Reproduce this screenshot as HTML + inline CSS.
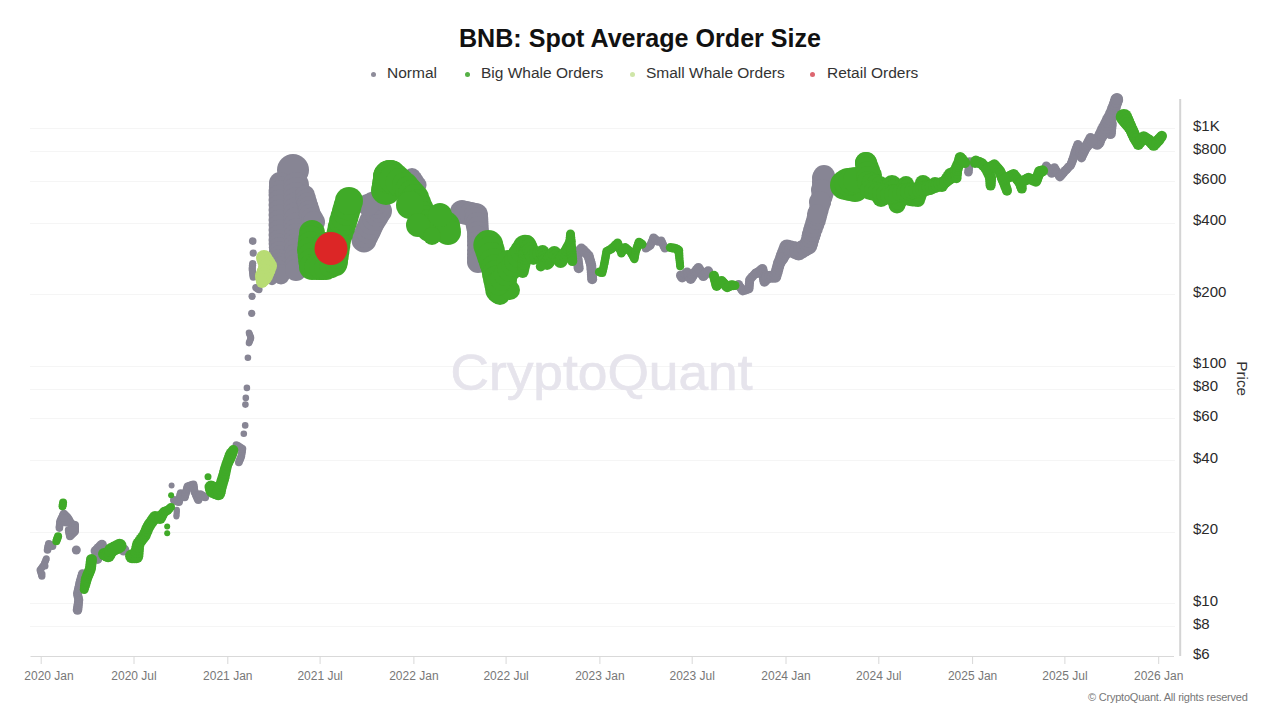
<!DOCTYPE html>
<html><head><meta charset="utf-8">
<style>
html,body{margin:0;padding:0;background:#fff;}
body{width:1280px;height:720px;position:relative;overflow:hidden;font-family:"Liberation Sans",sans-serif;}
.t{position:absolute;white-space:nowrap;line-height:1;}
#title{left:0;width:1280px;text-align:center;top:26px;font-size:25.1px;font-weight:bold;color:#111;}
.lg{top:65px;font-size:15.5px;color:#333;}
.dot{position:absolute;width:5px;height:5px;border-radius:50%;top:71.5px;}
.yl{left:1193px;font-size:15px;color:#2a2a2a;}
.xl{top:670px;font-size:12px;color:#777;}
svg{position:absolute;left:0;top:0;}
</style></head><body>
<svg width="1280" height="720" viewBox="0 0 1280 720">
<g stroke="#f5f5f5" stroke-width="1">
<line x1="30" y1="128.5" x2="1175" y2="128.5"/>
<line x1="30" y1="151.5" x2="1175" y2="151.5"/>
<line x1="30" y1="181.5" x2="1175" y2="181.5"/>
<line x1="30" y1="223.5" x2="1175" y2="223.5"/>
<line x1="30" y1="294.5" x2="1175" y2="294.5"/>
<line x1="30" y1="366.5" x2="1175" y2="366.5"/>
<line x1="30" y1="389.5" x2="1175" y2="389.5"/>
<line x1="30" y1="418.5" x2="1175" y2="418.5"/>
<line x1="30" y1="460.5" x2="1175" y2="460.5"/>
<line x1="30" y1="532.5" x2="1175" y2="532.5"/>
<line x1="30" y1="603.5" x2="1175" y2="603.5"/>
<line x1="30" y1="626.5" x2="1175" y2="626.5"/>
</g>
<text x="601.5" y="390" font-family="Liberation Sans" font-size="49.5" fill="#e6e4ec" stroke="#e6e4ec" stroke-width="0.7" text-anchor="middle" textLength="302" lengthAdjust="spacingAndGlyphs">CryptoQuant</text>
<g>
<g fill="#878594">
<circle cx="41.9" cy="576.3" r="3.5"/>
<circle cx="41.4" cy="574.7" r="3.5"/>
<circle cx="41.0" cy="573.1" r="3.5"/>
<circle cx="40.5" cy="571.6" r="3.5"/>
<circle cx="40.0" cy="570.0" r="3.5"/>
<circle cx="41.0" cy="568.8" r="3.5"/>
<circle cx="41.9" cy="567.5" r="3.5"/>
<circle cx="42.8" cy="566.2" r="3.5"/>
<circle cx="43.8" cy="565.0" r="3.5"/>
<circle cx="44.4" cy="563.5" r="3.5"/>
<circle cx="45.0" cy="561.9" r="3.5"/>
<circle cx="45.7" cy="560.3" r="3.5"/>
<circle cx="46.3" cy="558.8" r="3.5"/>
<circle cx="42.0" cy="574.0" r="3.5"/>
<circle cx="45.0" cy="566.0" r="3.5"/>
<circle cx="47.5" cy="550.0" r="3.8"/>
<circle cx="47.8" cy="548.5" r="3.8"/>
<circle cx="48.1" cy="546.9" r="3.8"/>
<circle cx="48.5" cy="545.3" r="3.8"/>
<circle cx="48.8" cy="543.8" r="3.8"/>
<circle cx="50.0" cy="544.6" r="3.8"/>
<circle cx="51.3" cy="545.5" r="3.8"/>
<circle cx="52.5" cy="546.3" r="3.8"/>
<circle cx="59.4" cy="528.1" r="3.8"/>
<circle cx="59.5" cy="526.4" r="3.8"/>
<circle cx="59.7" cy="524.7" r="3.8"/>
<circle cx="59.9" cy="523.0" r="3.8"/>
<circle cx="60.0" cy="521.3" r="3.8"/>
<circle cx="60.8" cy="519.8" r="3.8"/>
<circle cx="61.5" cy="518.3" r="3.9"/>
<circle cx="62.3" cy="516.8" r="3.9"/>
<circle cx="63.0" cy="515.3" r="4.0"/>
<circle cx="63.8" cy="513.8" r="4.0"/>
<circle cx="65.0" cy="515.0" r="4.0"/>
<circle cx="66.3" cy="516.3" r="4.0"/>
<circle cx="67.5" cy="517.5" r="4.0"/>
<circle cx="68.5" cy="519.1" r="4.0"/>
<circle cx="69.4" cy="520.6" r="4.0"/>
<circle cx="70.3" cy="522.2" r="4.0"/>
<circle cx="71.3" cy="523.8" r="4.0"/>
<circle cx="73.2" cy="524.4" r="4.0"/>
<circle cx="75.0" cy="525.0" r="4.0"/>
<circle cx="75.0" cy="526.6" r="4.0"/>
<circle cx="75.0" cy="528.1" r="4.0"/>
<circle cx="75.0" cy="529.7" r="4.0"/>
<circle cx="75.0" cy="531.3" r="4.0"/>
<circle cx="73.8" cy="532.5" r="4.0"/>
<circle cx="72.5" cy="533.8" r="4.0"/>
<circle cx="71.2" cy="535.0" r="4.0"/>
<circle cx="70.0" cy="536.3" r="4.0"/>
<circle cx="69.7" cy="534.7" r="4.0"/>
<circle cx="69.4" cy="533.1" r="4.0"/>
<circle cx="69.1" cy="531.6" r="4.0"/>
<circle cx="68.8" cy="530.0" r="4.0"/>
<circle cx="66.0" cy="522.0" r="4.5"/>
<circle cx="64.0" cy="518.0" r="4.0"/>
<circle cx="72.0" cy="530.0" r="4.0"/>
<circle cx="76.3" cy="550.0" r="4.5"/>
<circle cx="77.5" cy="610.0" r="4.8"/>
<circle cx="77.8" cy="608.0" r="4.7"/>
<circle cx="78.0" cy="606.0" r="4.7"/>
<circle cx="78.3" cy="604.0" r="4.6"/>
<circle cx="78.5" cy="602.0" r="4.6"/>
<circle cx="78.8" cy="600.0" r="4.5"/>
<circle cx="78.4" cy="597.9" r="4.5"/>
<circle cx="77.9" cy="595.9" r="4.5"/>
<circle cx="77.5" cy="593.8" r="4.5"/>
<circle cx="77.9" cy="591.9" r="4.5"/>
<circle cx="78.3" cy="590.0" r="4.5"/>
<circle cx="78.8" cy="588.1" r="4.5"/>
<circle cx="79.2" cy="586.3" r="4.5"/>
<circle cx="79.6" cy="584.4" r="4.5"/>
<circle cx="80.0" cy="582.5" r="4.5"/>
<circle cx="80.5" cy="580.8" r="4.5"/>
<circle cx="81.0" cy="579.0" r="4.5"/>
<circle cx="81.5" cy="577.3" r="4.5"/>
<circle cx="82.0" cy="575.5" r="4.5"/>
<circle cx="82.5" cy="573.8" r="4.5"/>
<circle cx="95.6" cy="551.0" r="5.0"/>
<circle cx="97.2" cy="549.5" r="5.0"/>
<circle cx="98.8" cy="547.9" r="5.0"/>
<circle cx="100.3" cy="546.3" r="5.0"/>
<circle cx="101.9" cy="544.8" r="5.0"/>
<circle cx="97.7" cy="559.4" r="4.5"/>
<circle cx="123.8" cy="550.0" r="5.5"/>
<circle cx="171.6" cy="485.5" r="3.0"/>
<circle cx="176.9" cy="509.8" r="3.0"/>
<circle cx="176.8" cy="511.2" r="3.0"/>
<circle cx="176.7" cy="512.5" r="3.0"/>
<circle cx="176.6" cy="513.9" r="3.0"/>
<circle cx="176.5" cy="515.2" r="3.0"/>
<circle cx="176.4" cy="516.6" r="3.0"/>
<circle cx="174.0" cy="500.1" r="4.0"/>
<circle cx="175.6" cy="500.8" r="4.0"/>
<circle cx="177.3" cy="501.4" r="4.0"/>
<circle cx="178.9" cy="502.1" r="4.0"/>
<circle cx="179.3" cy="500.3" r="4.0"/>
<circle cx="179.7" cy="498.6" r="4.0"/>
<circle cx="180.0" cy="496.8" r="4.0"/>
<circle cx="180.4" cy="495.1" r="4.0"/>
<circle cx="180.8" cy="493.3" r="4.0"/>
<circle cx="182.1" cy="494.6" r="4.0"/>
<circle cx="183.4" cy="495.9" r="4.0"/>
<circle cx="184.7" cy="497.2" r="4.0"/>
<circle cx="185.2" cy="495.4" r="4.0"/>
<circle cx="185.7" cy="493.6" r="4.0"/>
<circle cx="186.1" cy="491.9" r="4.0"/>
<circle cx="186.6" cy="490.1" r="4.0"/>
<circle cx="187.1" cy="488.3" r="4.0"/>
<circle cx="187.6" cy="486.5" r="4.0"/>
<circle cx="189.1" cy="486.0" r="4.0"/>
<circle cx="190.5" cy="485.6" r="4.0"/>
<circle cx="191.9" cy="485.1" r="4.0"/>
<circle cx="193.4" cy="484.6" r="4.0"/>
<circle cx="193.7" cy="486.3" r="4.0"/>
<circle cx="193.9" cy="488.0" r="4.0"/>
<circle cx="194.2" cy="489.7" r="4.0"/>
<circle cx="194.4" cy="491.4" r="4.0"/>
<circle cx="195.2" cy="493.1" r="4.0"/>
<circle cx="196.0" cy="494.9" r="4.0"/>
<circle cx="196.7" cy="496.6" r="4.0"/>
<circle cx="197.5" cy="498.4" r="4.0"/>
<circle cx="198.3" cy="500.1" r="4.0"/>
<circle cx="198.8" cy="498.7" r="4.0"/>
<circle cx="199.3" cy="497.2" r="4.0"/>
<circle cx="199.8" cy="495.8" r="4.0"/>
<circle cx="200.3" cy="494.3" r="4.0"/>
<circle cx="201.9" cy="495.3" r="4.0"/>
<circle cx="203.5" cy="496.2" r="4.0"/>
<circle cx="205.1" cy="497.2" r="4.0"/>
<circle cx="236.3" cy="445.0" r="3.8"/>
<circle cx="237.9" cy="445.9" r="3.8"/>
<circle cx="239.4" cy="446.9" r="3.8"/>
<circle cx="240.9" cy="447.9" r="3.8"/>
<circle cx="242.5" cy="448.8" r="3.8"/>
<circle cx="242.2" cy="450.7" r="3.8"/>
<circle cx="241.9" cy="452.6" r="3.8"/>
<circle cx="241.6" cy="454.4" r="3.8"/>
<circle cx="241.3" cy="456.3" r="3.8"/>
<circle cx="240.7" cy="457.9" r="3.8"/>
<circle cx="240.1" cy="459.4" r="3.8"/>
<circle cx="239.4" cy="460.9" r="3.8"/>
<circle cx="238.8" cy="462.5" r="3.8"/>
<circle cx="243.8" cy="433.8" r="3.3"/>
<circle cx="245.2" cy="425.4" r="3.3"/>
<circle cx="245.4" cy="404.6" r="3.3"/>
<circle cx="245.8" cy="397.9" r="3.3"/>
<circle cx="246.9" cy="387.9" r="3.3"/>
<circle cx="247.9" cy="357.7" r="3.3"/>
<circle cx="249.0" cy="343.1" r="3.3"/>
<circle cx="249.5" cy="341.8" r="3.3"/>
<circle cx="250.0" cy="340.5" r="3.3"/>
<circle cx="250.5" cy="339.2" r="3.3"/>
<circle cx="251.0" cy="337.9" r="3.3"/>
<circle cx="250.5" cy="336.6" r="3.3"/>
<circle cx="250.0" cy="335.3" r="3.3"/>
<circle cx="249.5" cy="334.0" r="3.3"/>
<circle cx="249.0" cy="332.7" r="3.3"/>
<circle cx="251.7" cy="313.3" r="3.6"/>
<circle cx="252.1" cy="296.3" r="3.6"/>
<circle cx="255.8" cy="287.5" r="3.6"/>
<circle cx="256.9" cy="288.2" r="3.6"/>
<circle cx="257.9" cy="288.9" r="3.6"/>
<circle cx="259.0" cy="289.6" r="3.6"/>
<circle cx="253.2" cy="277.1" r="3.6"/>
<circle cx="253.0" cy="275.4" r="3.6"/>
<circle cx="252.8" cy="273.8" r="3.6"/>
<circle cx="252.6" cy="272.1" r="3.6"/>
<circle cx="252.4" cy="270.5" r="3.6"/>
<circle cx="252.2" cy="268.8" r="3.6"/>
<circle cx="252.4" cy="267.0" r="3.6"/>
<circle cx="252.5" cy="265.3" r="3.6"/>
<circle cx="252.7" cy="263.5" r="3.6"/>
<circle cx="253.2" cy="253.1" r="3.6"/>
<circle cx="252.7" cy="241.1" r="3.8"/>
<circle cx="293.0" cy="170.0" r="16.0"/>
<circle cx="280.0" cy="183.0" r="11.0"/>
<circle cx="279.7" cy="187.0" r="10.8"/>
<circle cx="279.3" cy="191.0" r="10.7"/>
<circle cx="279.0" cy="195.0" r="10.5"/>
<circle cx="279.0" cy="200.0" r="10.5"/>
<circle cx="279.0" cy="205.0" r="10.5"/>
<circle cx="279.0" cy="210.0" r="10.5"/>
<circle cx="279.0" cy="215.0" r="10.5"/>
<circle cx="279.0" cy="220.0" r="10.5"/>
<circle cx="279.0" cy="225.0" r="10.5"/>
<circle cx="279.0" cy="230.0" r="10.5"/>
<circle cx="279.0" cy="235.0" r="10.5"/>
<circle cx="279.0" cy="240.0" r="10.5"/>
<circle cx="279.0" cy="243.8" r="10.4"/>
<circle cx="279.0" cy="247.5" r="10.2"/>
<circle cx="279.0" cy="251.2" r="10.1"/>
<circle cx="279.0" cy="255.0" r="10.0"/>
<circle cx="279.2" cy="258.8" r="9.9"/>
<circle cx="279.5" cy="262.5" r="9.8"/>
<circle cx="279.8" cy="266.2" r="9.6"/>
<circle cx="280.0" cy="270.0" r="9.5"/>
<circle cx="280.5" cy="273.0" r="9.0"/>
<circle cx="281.0" cy="276.0" r="8.5"/>
<circle cx="296.0" cy="185.0" r="13.0"/>
<circle cx="296.0" cy="190.0" r="13.0"/>
<circle cx="296.0" cy="195.0" r="13.0"/>
<circle cx="296.0" cy="200.0" r="13.0"/>
<circle cx="296.0" cy="205.0" r="13.0"/>
<circle cx="296.0" cy="210.0" r="13.0"/>
<circle cx="296.0" cy="215.0" r="13.0"/>
<circle cx="296.0" cy="220.0" r="12.7"/>
<circle cx="296.0" cy="225.0" r="12.3"/>
<circle cx="296.0" cy="230.0" r="12.0"/>
<circle cx="296.0" cy="235.0" r="12.0"/>
<circle cx="296.0" cy="240.0" r="12.0"/>
<circle cx="296.0" cy="245.0" r="12.0"/>
<circle cx="296.0" cy="250.0" r="11.7"/>
<circle cx="296.0" cy="255.0" r="11.3"/>
<circle cx="296.0" cy="260.0" r="11.0"/>
<circle cx="296.0" cy="265.0" r="11.0"/>
<circle cx="296.0" cy="270.0" r="11.0"/>
<circle cx="305.0" cy="195.0" r="10.0"/>
<circle cx="306.0" cy="199.0" r="10.2"/>
<circle cx="307.0" cy="203.0" r="10.4"/>
<circle cx="308.0" cy="207.0" r="10.6"/>
<circle cx="309.0" cy="211.0" r="10.8"/>
<circle cx="310.0" cy="215.0" r="11.0"/>
<circle cx="312.0" cy="218.5" r="11.0"/>
<circle cx="314.0" cy="222.0" r="11.0"/>
<circle cx="272.0" cy="280.2" r="5.0"/>
<circle cx="364.0" cy="240.0" r="12.5"/>
<circle cx="366.0" cy="235.5" r="12.6"/>
<circle cx="368.0" cy="231.0" r="12.8"/>
<circle cx="370.0" cy="226.5" r="12.9"/>
<circle cx="372.0" cy="222.0" r="13.0"/>
<circle cx="374.7" cy="218.3" r="12.7"/>
<circle cx="377.3" cy="214.7" r="12.3"/>
<circle cx="380.0" cy="211.0" r="12.0"/>
<circle cx="378.7" cy="207.3" r="11.3"/>
<circle cx="377.3" cy="203.7" r="10.7"/>
<circle cx="376.0" cy="200.0" r="10.0"/>
<circle cx="372.0" cy="202.5" r="10.5"/>
<circle cx="368.0" cy="205.0" r="11.0"/>
<circle cx="412.0" cy="177.0" r="9.0"/>
<circle cx="414.2" cy="179.7" r="8.7"/>
<circle cx="416.4" cy="182.3" r="8.3"/>
<circle cx="418.6" cy="185.0" r="8.0"/>
<circle cx="462.0" cy="212.0" r="12.0"/>
<circle cx="466.7" cy="213.0" r="12.0"/>
<circle cx="471.3" cy="214.0" r="12.0"/>
<circle cx="476.0" cy="215.0" r="12.0"/>
<circle cx="476.5" cy="219.2" r="11.8"/>
<circle cx="477.0" cy="223.5" r="11.5"/>
<circle cx="477.5" cy="227.8" r="11.2"/>
<circle cx="478.0" cy="232.0" r="11.0"/>
<circle cx="477.8" cy="236.5" r="10.8"/>
<circle cx="477.5" cy="241.0" r="10.5"/>
<circle cx="477.2" cy="245.5" r="10.2"/>
<circle cx="477.0" cy="250.0" r="10.0"/>
<circle cx="477.3" cy="254.0" r="10.3"/>
<circle cx="477.7" cy="258.0" r="10.7"/>
<circle cx="478.0" cy="262.0" r="11.0"/>
<circle cx="578.7" cy="268.3" r="5.0"/>
<circle cx="578.4" cy="265.9" r="5.0"/>
<circle cx="578.1" cy="263.5" r="5.0"/>
<circle cx="577.8" cy="261.1" r="5.0"/>
<circle cx="577.5" cy="258.7" r="5.0"/>
<circle cx="577.2" cy="256.3" r="5.0"/>
<circle cx="576.9" cy="253.9" r="5.0"/>
<circle cx="578.4" cy="252.1" r="5.0"/>
<circle cx="579.9" cy="250.3" r="5.0"/>
<circle cx="581.4" cy="248.5" r="5.0"/>
<circle cx="582.8" cy="249.9" r="5.0"/>
<circle cx="584.3" cy="251.4" r="5.0"/>
<circle cx="585.7" cy="252.8" r="5.0"/>
<circle cx="587.2" cy="254.3" r="5.0"/>
<circle cx="588.6" cy="255.7" r="5.0"/>
<circle cx="589.1" cy="257.7" r="5.0"/>
<circle cx="589.7" cy="259.7" r="5.0"/>
<circle cx="590.2" cy="261.6" r="5.0"/>
<circle cx="590.8" cy="263.6" r="5.0"/>
<circle cx="591.3" cy="265.6" r="5.0"/>
<circle cx="591.4" cy="267.9" r="5.0"/>
<circle cx="591.6" cy="270.1" r="5.0"/>
<circle cx="591.8" cy="272.4" r="5.0"/>
<circle cx="591.9" cy="274.7" r="5.0"/>
<circle cx="592.1" cy="276.9" r="5.0"/>
<circle cx="592.2" cy="279.2" r="5.0"/>
<circle cx="645.8" cy="248.6" r="4.0"/>
<circle cx="647.3" cy="247.6" r="4.0"/>
<circle cx="648.9" cy="246.6" r="4.0"/>
<circle cx="650.4" cy="245.6" r="4.0"/>
<circle cx="651.0" cy="244.0" r="4.0"/>
<circle cx="651.6" cy="242.3" r="4.0"/>
<circle cx="652.3" cy="240.7" r="4.0"/>
<circle cx="652.9" cy="239.0" r="4.0"/>
<circle cx="653.5" cy="237.4" r="4.0"/>
<circle cx="654.6" cy="238.5" r="4.0"/>
<circle cx="655.8" cy="239.6" r="4.0"/>
<circle cx="657.0" cy="240.7" r="4.0"/>
<circle cx="658.1" cy="241.8" r="4.0"/>
<circle cx="659.6" cy="241.2" r="4.0"/>
<circle cx="661.1" cy="240.5" r="4.0"/>
<circle cx="661.9" cy="242.1" r="4.0"/>
<circle cx="662.6" cy="243.7" r="4.0"/>
<circle cx="663.4" cy="245.4" r="4.0"/>
<circle cx="664.1" cy="247.0" r="4.0"/>
<circle cx="664.9" cy="248.6" r="4.0"/>
<circle cx="681.0" cy="275.4" r="5.0"/>
<circle cx="682.2" cy="277.5" r="5.0"/>
<circle cx="683.8" cy="275.9" r="5.0"/>
<circle cx="685.5" cy="274.2" r="5.0"/>
<circle cx="687.1" cy="272.6" r="5.0"/>
<circle cx="688.3" cy="274.7" r="5.0"/>
<circle cx="689.5" cy="276.8" r="5.0"/>
<circle cx="690.7" cy="278.9" r="5.0"/>
<circle cx="691.9" cy="277.0" r="5.0"/>
<circle cx="693.0" cy="275.2" r="5.0"/>
<circle cx="694.2" cy="273.3" r="5.0"/>
<circle cx="695.6" cy="271.5" r="5.0"/>
<circle cx="697.0" cy="269.8" r="5.0"/>
<circle cx="698.4" cy="268.0" r="5.0"/>
<circle cx="699.6" cy="270.0" r="5.0"/>
<circle cx="700.8" cy="272.1" r="5.0"/>
<circle cx="702.1" cy="274.1" r="5.0"/>
<circle cx="703.3" cy="276.1" r="5.0"/>
<circle cx="704.9" cy="274.5" r="5.0"/>
<circle cx="706.6" cy="272.8" r="5.0"/>
<circle cx="708.2" cy="271.2" r="5.0"/>
<circle cx="738.5" cy="284.5" r="4.5"/>
<circle cx="739.5" cy="286.1" r="4.5"/>
<circle cx="740.6" cy="287.7" r="4.5"/>
<circle cx="741.7" cy="289.3" r="4.5"/>
<circle cx="742.7" cy="290.9" r="4.5"/>
<circle cx="744.8" cy="290.2" r="4.5"/>
<circle cx="746.9" cy="289.5" r="4.5"/>
<circle cx="749.0" cy="288.8" r="4.5"/>
<circle cx="749.1" cy="287.0" r="4.5"/>
<circle cx="749.3" cy="285.1" r="4.5"/>
<circle cx="749.4" cy="283.3" r="4.5"/>
<circle cx="749.6" cy="281.4" r="4.5"/>
<circle cx="749.7" cy="279.6" r="4.5"/>
<circle cx="751.1" cy="278.0" r="4.5"/>
<circle cx="752.5" cy="276.5" r="4.5"/>
<circle cx="754.0" cy="274.9" r="4.5"/>
<circle cx="755.4" cy="273.3" r="4.5"/>
<circle cx="756.6" cy="273.1" r="4.8"/>
<circle cx="757.8" cy="272.8" r="5.0"/>
<circle cx="759.3" cy="271.6" r="5.0"/>
<circle cx="760.9" cy="270.3" r="5.0"/>
<circle cx="762.4" cy="269.1" r="5.0"/>
<circle cx="762.8" cy="271.2" r="5.0"/>
<circle cx="763.1" cy="273.3" r="5.0"/>
<circle cx="763.5" cy="275.4" r="5.0"/>
<circle cx="763.8" cy="277.5" r="5.0"/>
<circle cx="764.1" cy="279.6" r="5.0"/>
<circle cx="764.5" cy="281.7" r="5.0"/>
<circle cx="765.5" cy="280.0" r="5.3"/>
<circle cx="766.5" cy="278.4" r="5.7"/>
<circle cx="767.5" cy="276.7" r="6.0"/>
<circle cx="770.1" cy="276.7" r="6.0"/>
<circle cx="772.7" cy="276.7" r="6.0"/>
<circle cx="775.3" cy="276.7" r="6.0"/>
<circle cx="776.1" cy="274.0" r="6.0"/>
<circle cx="776.9" cy="271.3" r="6.0"/>
<circle cx="777.6" cy="268.5" r="6.0"/>
<circle cx="778.4" cy="265.8" r="6.0"/>
<circle cx="779.2" cy="263.1" r="6.0"/>
<circle cx="779.2" cy="263.1" r="6.0"/>
<circle cx="780.5" cy="260.5" r="6.3"/>
<circle cx="781.8" cy="257.9" r="6.7"/>
<circle cx="783.1" cy="255.3" r="7.0"/>
<circle cx="784.4" cy="252.7" r="7.3"/>
<circle cx="785.7" cy="250.1" r="7.7"/>
<circle cx="787.0" cy="247.5" r="8.0"/>
<circle cx="789.9" cy="248.5" r="8.2"/>
<circle cx="792.8" cy="249.4" r="8.5"/>
<circle cx="795.7" cy="250.4" r="8.8"/>
<circle cx="798.6" cy="251.4" r="9.0"/>
<circle cx="801.9" cy="249.5" r="9.0"/>
<circle cx="805.1" cy="247.5" r="9.0"/>
<circle cx="808.4" cy="245.6" r="9.0"/>
<circle cx="809.3" cy="242.2" r="9.1"/>
<circle cx="810.2" cy="238.8" r="9.2"/>
<circle cx="811.1" cy="235.4" r="9.4"/>
<circle cx="812.0" cy="232.0" r="9.5"/>
<circle cx="813.3" cy="228.0" r="9.7"/>
<circle cx="814.7" cy="224.0" r="9.8"/>
<circle cx="816.0" cy="220.0" r="10.0"/>
<circle cx="817.0" cy="216.2" r="10.0"/>
<circle cx="818.0" cy="212.5" r="10.0"/>
<circle cx="819.0" cy="208.8" r="10.0"/>
<circle cx="820.0" cy="205.0" r="10.0"/>
<circle cx="821.0" cy="200.7" r="10.3"/>
<circle cx="822.0" cy="196.3" r="10.7"/>
<circle cx="823.0" cy="192.0" r="11.0"/>
<circle cx="823.0" cy="187.3" r="11.0"/>
<circle cx="823.0" cy="182.7" r="11.0"/>
<circle cx="823.0" cy="178.0" r="11.0"/>
<circle cx="824.0" cy="176.0" r="11.0"/>
<circle cx="822.0" cy="190.0" r="11.0"/>
<circle cx="820.0" cy="202.0" r="11.0"/>
<circle cx="817.0" cy="214.0" r="10.0"/>
<circle cx="969.8" cy="161.1" r="3.8"/>
<circle cx="969.6" cy="163.0" r="3.9"/>
<circle cx="969.3" cy="164.8" r="4.0"/>
<circle cx="969.1" cy="166.7" r="4.0"/>
<circle cx="968.9" cy="168.6" r="4.1"/>
<circle cx="968.6" cy="170.4" r="4.2"/>
<circle cx="968.4" cy="172.3" r="4.3"/>
<circle cx="1046.3" cy="166.0" r="4.5"/>
<circle cx="1047.4" cy="167.4" r="4.5"/>
<circle cx="1048.5" cy="168.9" r="4.5"/>
<circle cx="1049.5" cy="170.3" r="4.5"/>
<circle cx="1050.6" cy="171.8" r="4.5"/>
<circle cx="1051.7" cy="173.2" r="4.5"/>
<circle cx="1052.6" cy="171.4" r="4.5"/>
<circle cx="1053.5" cy="169.6" r="4.5"/>
<circle cx="1054.4" cy="167.8" r="4.5"/>
<circle cx="1055.5" cy="169.6" r="4.5"/>
<circle cx="1056.6" cy="171.4" r="4.5"/>
<circle cx="1057.7" cy="173.3" r="4.5"/>
<circle cx="1058.8" cy="175.1" r="4.5"/>
<circle cx="1059.9" cy="176.9" r="4.5"/>
<circle cx="1061.2" cy="175.3" r="4.5"/>
<circle cx="1062.6" cy="173.7" r="4.5"/>
<circle cx="1064.0" cy="172.1" r="4.5"/>
<circle cx="1065.3" cy="170.5" r="4.5"/>
<circle cx="1066.7" cy="169.2" r="4.5"/>
<circle cx="1068.0" cy="167.8" r="4.5"/>
<circle cx="1069.3" cy="166.4" r="4.5"/>
<circle cx="1070.7" cy="165.1" r="4.5"/>
<circle cx="1071.4" cy="163.3" r="4.5"/>
<circle cx="1072.1" cy="161.5" r="4.5"/>
<circle cx="1072.7" cy="159.7" r="4.5"/>
<circle cx="1073.4" cy="157.9" r="4.5"/>
<circle cx="1074.0" cy="155.8" r="4.5"/>
<circle cx="1074.6" cy="153.7" r="4.5"/>
<circle cx="1075.2" cy="151.6" r="4.5"/>
<circle cx="1075.9" cy="149.8" r="4.5"/>
<circle cx="1076.6" cy="148.0" r="4.5"/>
<circle cx="1077.2" cy="146.2" r="4.5"/>
<circle cx="1077.9" cy="144.4" r="4.5"/>
<circle cx="1078.5" cy="146.2" r="4.5"/>
<circle cx="1079.1" cy="148.0" r="4.5"/>
<circle cx="1079.7" cy="149.8" r="4.5"/>
<circle cx="1080.2" cy="151.8" r="4.5"/>
<circle cx="1080.6" cy="153.9" r="4.5"/>
<circle cx="1081.0" cy="155.9" r="4.5"/>
<circle cx="1081.5" cy="157.9" r="4.5"/>
<circle cx="1082.2" cy="156.1" r="4.6"/>
<circle cx="1082.9" cy="154.3" r="4.7"/>
<circle cx="1083.7" cy="152.5" r="4.8"/>
<circle cx="1084.4" cy="150.7" r="4.9"/>
<circle cx="1085.1" cy="148.9" r="5.0"/>
<circle cx="1086.2" cy="146.7" r="5.0"/>
<circle cx="1087.3" cy="144.6" r="5.0"/>
<circle cx="1088.3" cy="142.4" r="5.0"/>
<circle cx="1089.4" cy="140.3" r="5.0"/>
<circle cx="1090.5" cy="138.1" r="5.0"/>
<circle cx="1091.9" cy="139.7" r="5.0"/>
<circle cx="1093.2" cy="141.2" r="5.0"/>
<circle cx="1094.6" cy="142.8" r="5.0"/>
<circle cx="1096.0" cy="144.4" r="5.0"/>
<circle cx="1097.8" cy="143.5" r="5.0"/>
<circle cx="1099.6" cy="142.6" r="5.0"/>
<circle cx="1097.7" cy="144.2" r="5.5"/>
<circle cx="1098.8" cy="141.9" r="5.5"/>
<circle cx="1100.0" cy="139.6" r="5.5"/>
<circle cx="1101.1" cy="137.4" r="5.5"/>
<circle cx="1102.2" cy="135.1" r="5.5"/>
<circle cx="1103.2" cy="133.5" r="5.5"/>
<circle cx="1104.4" cy="132.0" r="5.5"/>
<circle cx="1105.6" cy="130.5" r="5.5"/>
<circle cx="1106.8" cy="129.0" r="5.5"/>
<circle cx="1108.0" cy="130.5" r="5.5"/>
<circle cx="1109.2" cy="132.0" r="5.5"/>
<circle cx="1110.4" cy="133.5" r="5.5"/>
<circle cx="1110.6" cy="131.0" r="5.5"/>
<circle cx="1110.8" cy="128.6" r="5.5"/>
<circle cx="1111.1" cy="126.1" r="5.5"/>
<circle cx="1111.3" cy="123.6" r="5.5"/>
<circle cx="1109.0" cy="124.8" r="6.0"/>
<circle cx="1106.7" cy="126.1" r="6.5"/>
<circle cx="1107.6" cy="124.3" r="6.5"/>
<circle cx="1108.5" cy="122.5" r="6.5"/>
<circle cx="1109.7" cy="120.0" r="6.4"/>
<circle cx="1110.8" cy="117.5" r="6.2"/>
<circle cx="1111.9" cy="115.1" r="6.1"/>
<circle cx="1113.1" cy="112.6" r="6.0"/>
<circle cx="1113.7" cy="110.5" r="6.0"/>
<circle cx="1114.3" cy="108.3" r="6.0"/>
<circle cx="1114.9" cy="106.2" r="6.0"/>
<circle cx="1115.5" cy="104.1" r="6.2"/>
<circle cx="1116.1" cy="102.0" r="6.3"/>
<circle cx="1116.7" cy="99.9" r="6.5"/>
<circle cx="1097.0" cy="142.0" r="6.0"/>
<circle cx="1098.5" cy="139.5" r="6.2"/>
<circle cx="1100.0" cy="137.0" r="6.5"/>
<circle cx="1101.5" cy="134.5" r="6.8"/>
<circle cx="1103.0" cy="132.0" r="7.0"/>
<circle cx="1104.3" cy="129.3" r="7.0"/>
<circle cx="1105.7" cy="126.7" r="7.0"/>
<circle cx="1107.0" cy="124.0" r="7.0"/>
<circle cx="1108.2" cy="121.2" r="6.9"/>
<circle cx="1109.5" cy="118.5" r="6.8"/>
<circle cx="1110.8" cy="115.8" r="6.6"/>
<circle cx="1112.0" cy="113.0" r="6.5"/>
<circle cx="1112.8" cy="110.8" r="6.4"/>
<circle cx="1113.5" cy="108.5" r="6.2"/>
<circle cx="1114.2" cy="106.2" r="6.1"/>
<circle cx="1115.0" cy="104.0" r="6.0"/>
<circle cx="1116.0" cy="101.5" r="6.0"/>
<circle cx="1117.0" cy="99.0" r="6.0"/>
<circle cx="1085.0" cy="148.0" r="5.5"/>
<circle cx="1086.8" cy="146.0" r="5.5"/>
<circle cx="1088.5" cy="144.0" r="5.5"/>
<circle cx="1090.2" cy="142.0" r="5.5"/>
<circle cx="1092.0" cy="140.0" r="5.5"/>
</g>
<g fill="#40aa28">
<circle cx="56.3" cy="541.3" r="4.0"/>
<circle cx="56.9" cy="539.6" r="4.0"/>
<circle cx="57.5" cy="538.0" r="4.0"/>
<circle cx="58.1" cy="536.3" r="4.0"/>
<circle cx="62.5" cy="506.3" r="4.0"/>
<circle cx="62.8" cy="504.4" r="4.0"/>
<circle cx="63.1" cy="502.5" r="4.0"/>
<circle cx="84.2" cy="589.6" r="4.5"/>
<circle cx="84.6" cy="587.5" r="4.7"/>
<circle cx="85.0" cy="585.4" r="4.9"/>
<circle cx="85.5" cy="583.4" r="5.1"/>
<circle cx="85.9" cy="581.3" r="5.3"/>
<circle cx="86.3" cy="579.2" r="5.5"/>
<circle cx="87.1" cy="577.1" r="5.5"/>
<circle cx="87.9" cy="575.0" r="5.5"/>
<circle cx="88.8" cy="573.0" r="5.5"/>
<circle cx="89.6" cy="570.9" r="5.5"/>
<circle cx="90.4" cy="568.8" r="5.5"/>
<circle cx="90.7" cy="566.4" r="5.5"/>
<circle cx="91.0" cy="564.1" r="5.5"/>
<circle cx="91.2" cy="561.8" r="5.5"/>
<circle cx="91.5" cy="559.4" r="5.5"/>
<circle cx="104.0" cy="554.0" r="6.0"/>
<circle cx="106.0" cy="554.6" r="6.5"/>
<circle cx="108.1" cy="555.2" r="7.0"/>
<circle cx="109.7" cy="552.6" r="7.0"/>
<circle cx="111.3" cy="550.0" r="7.0"/>
<circle cx="114.1" cy="548.6" r="7.0"/>
<circle cx="116.8" cy="547.2" r="7.0"/>
<circle cx="119.6" cy="545.8" r="7.0"/>
<circle cx="132.1" cy="556.3" r="7.0"/>
<circle cx="134.2" cy="556.3" r="7.0"/>
<circle cx="136.3" cy="556.3" r="7.0"/>
<circle cx="136.7" cy="553.8" r="6.8"/>
<circle cx="137.1" cy="551.3" r="6.6"/>
<circle cx="137.5" cy="548.8" r="6.4"/>
<circle cx="137.9" cy="546.3" r="6.2"/>
<circle cx="138.3" cy="543.8" r="6.0"/>
<circle cx="139.9" cy="541.7" r="6.0"/>
<circle cx="141.4" cy="539.6" r="6.0"/>
<circle cx="143.0" cy="537.5" r="6.0"/>
<circle cx="144.6" cy="535.4" r="6.0"/>
<circle cx="145.6" cy="533.0" r="6.0"/>
<circle cx="146.7" cy="530.5" r="6.0"/>
<circle cx="147.7" cy="528.1" r="6.0"/>
<circle cx="148.8" cy="526.0" r="6.0"/>
<circle cx="150.0" cy="524.0" r="6.0"/>
<circle cx="151.7" cy="521.7" r="6.0"/>
<circle cx="153.3" cy="519.3" r="6.0"/>
<circle cx="155.0" cy="517.0" r="6.0"/>
<circle cx="157.5" cy="517.5" r="6.0"/>
<circle cx="160.0" cy="518.0" r="6.0"/>
<circle cx="161.3" cy="516.0" r="5.7"/>
<circle cx="162.7" cy="514.0" r="5.3"/>
<circle cx="164.0" cy="512.0" r="5.0"/>
<circle cx="166.0" cy="511.0" r="4.8"/>
<circle cx="168.0" cy="510.0" r="4.5"/>
<circle cx="169.0" cy="509.0" r="4.3"/>
<circle cx="170.0" cy="508.0" r="4.2"/>
<circle cx="171.0" cy="507.0" r="4.0"/>
<circle cx="167.2" cy="526.4" r="3.0"/>
<circle cx="167.2" cy="533.2" r="3.0"/>
<circle cx="171.1" cy="495.3" r="3.0"/>
<circle cx="208.0" cy="476.8" r="3.5"/>
<circle cx="211.0" cy="487.0" r="6.5"/>
<circle cx="212.2" cy="488.5" r="7.2"/>
<circle cx="213.3" cy="490.0" r="8.0"/>
<circle cx="215.8" cy="491.6" r="7.5"/>
<circle cx="218.3" cy="493.3" r="7.0"/>
<circle cx="219.2" cy="490.9" r="6.7"/>
<circle cx="220.1" cy="488.4" r="6.3"/>
<circle cx="221.0" cy="486.0" r="6.0"/>
<circle cx="221.8" cy="483.4" r="6.0"/>
<circle cx="222.5" cy="480.9" r="6.0"/>
<circle cx="223.3" cy="478.3" r="6.0"/>
<circle cx="224.0" cy="475.6" r="5.9"/>
<circle cx="224.7" cy="473.0" r="5.8"/>
<circle cx="225.3" cy="470.3" r="5.7"/>
<circle cx="226.0" cy="467.7" r="5.6"/>
<circle cx="226.7" cy="465.0" r="5.5"/>
<circle cx="227.7" cy="462.5" r="5.6"/>
<circle cx="228.8" cy="460.0" r="5.8"/>
<circle cx="229.8" cy="457.5" r="5.9"/>
<circle cx="230.8" cy="455.0" r="6.0"/>
<circle cx="231.6" cy="453.3" r="5.7"/>
<circle cx="232.5" cy="451.7" r="5.3"/>
<circle cx="233.3" cy="450.0" r="5.0"/>
<circle cx="312.0" cy="233.0" r="13.0"/>
<circle cx="311.3" cy="238.7" r="13.0"/>
<circle cx="310.7" cy="244.3" r="13.0"/>
<circle cx="310.0" cy="250.0" r="13.0"/>
<circle cx="310.7" cy="255.7" r="13.0"/>
<circle cx="311.3" cy="261.3" r="13.0"/>
<circle cx="312.0" cy="267.0" r="13.0"/>
<circle cx="316.7" cy="267.3" r="12.7"/>
<circle cx="321.3" cy="267.7" r="12.3"/>
<circle cx="326.0" cy="268.0" r="12.0"/>
<circle cx="331.0" cy="266.5" r="11.5"/>
<circle cx="336.0" cy="265.0" r="11.0"/>
<circle cx="325.0" cy="245.0" r="13.0"/>
<circle cx="336.0" cy="262.0" r="12.0"/>
<circle cx="336.5" cy="256.5" r="12.2"/>
<circle cx="337.0" cy="251.0" r="12.5"/>
<circle cx="337.5" cy="245.5" r="12.8"/>
<circle cx="338.0" cy="240.0" r="13.0"/>
<circle cx="339.7" cy="234.0" r="13.3"/>
<circle cx="341.3" cy="228.0" r="13.7"/>
<circle cx="343.0" cy="222.0" r="14.0"/>
<circle cx="344.5" cy="216.8" r="14.0"/>
<circle cx="346.0" cy="211.5" r="14.0"/>
<circle cx="347.5" cy="206.2" r="14.0"/>
<circle cx="349.0" cy="201.0" r="14.0"/>
<circle cx="390.0" cy="177.0" r="17.0"/>
<circle cx="388.0" cy="183.5" r="16.0"/>
<circle cx="386.0" cy="190.0" r="15.0"/>
<circle cx="390.0" cy="177.0" r="17.0"/>
<circle cx="395.0" cy="179.7" r="15.7"/>
<circle cx="400.0" cy="182.3" r="14.3"/>
<circle cx="405.0" cy="185.0" r="13.0"/>
<circle cx="408.3" cy="189.3" r="13.3"/>
<circle cx="411.7" cy="193.7" r="13.7"/>
<circle cx="415.0" cy="198.0" r="14.0"/>
<circle cx="417.3" cy="203.7" r="14.0"/>
<circle cx="419.7" cy="209.3" r="14.0"/>
<circle cx="422.0" cy="215.0" r="14.0"/>
<circle cx="424.7" cy="219.3" r="14.0"/>
<circle cx="427.3" cy="223.7" r="14.0"/>
<circle cx="430.0" cy="228.0" r="14.0"/>
<circle cx="435.0" cy="227.3" r="14.3"/>
<circle cx="440.0" cy="226.7" r="14.7"/>
<circle cx="445.0" cy="226.0" r="15.0"/>
<circle cx="446.5" cy="229.0" r="14.0"/>
<circle cx="448.0" cy="232.0" r="13.0"/>
<circle cx="410.0" cy="205.0" r="14.0"/>
<circle cx="418.0" cy="225.0" r="12.0"/>
<circle cx="432.0" cy="236.0" r="9.0"/>
<circle cx="440.0" cy="215.0" r="12.0"/>
<circle cx="488.3" cy="245.0" r="15.0"/>
<circle cx="490.0" cy="250.8" r="14.8"/>
<circle cx="491.6" cy="256.6" r="14.5"/>
<circle cx="493.3" cy="262.5" r="14.2"/>
<circle cx="495.0" cy="268.3" r="14.0"/>
<circle cx="495.8" cy="273.7" r="13.8"/>
<circle cx="496.6" cy="279.1" r="13.5"/>
<circle cx="497.5" cy="284.6" r="13.2"/>
<circle cx="498.3" cy="290.0" r="13.0"/>
<circle cx="499.1" cy="292.5" r="11.5"/>
<circle cx="500.0" cy="295.0" r="10.0"/>
<circle cx="505.0" cy="280.0" r="12.0"/>
<circle cx="510.0" cy="290.0" r="10.0"/>
<circle cx="520.0" cy="258.0" r="12.0"/>
<circle cx="508.0" cy="262.0" r="12.0"/>
<circle cx="498.3" cy="283.3" r="12.0"/>
<circle cx="502.1" cy="278.7" r="12.0"/>
<circle cx="505.8" cy="274.1" r="12.0"/>
<circle cx="509.5" cy="269.6" r="12.0"/>
<circle cx="513.3" cy="265.0" r="12.0"/>
<circle cx="516.2" cy="260.4" r="12.0"/>
<circle cx="519.1" cy="255.8" r="12.0"/>
<circle cx="522.1" cy="251.3" r="12.0"/>
<circle cx="525.0" cy="246.7" r="12.0"/>
<circle cx="527.1" cy="249.2" r="11.0"/>
<circle cx="529.1" cy="251.7" r="10.0"/>
<circle cx="531.2" cy="254.2" r="9.0"/>
<circle cx="533.3" cy="256.7" r="8.0"/>
<circle cx="522.7" cy="271.9" r="6.0"/>
<circle cx="523.2" cy="269.0" r="6.2"/>
<circle cx="523.6" cy="266.1" r="6.4"/>
<circle cx="524.1" cy="263.3" r="6.6"/>
<circle cx="524.5" cy="260.4" r="6.8"/>
<circle cx="525.0" cy="257.5" r="7.0"/>
<circle cx="525.4" cy="254.6" r="7.2"/>
<circle cx="525.9" cy="251.7" r="7.4"/>
<circle cx="526.3" cy="248.9" r="7.6"/>
<circle cx="526.8" cy="246.0" r="7.8"/>
<circle cx="527.2" cy="243.1" r="8.0"/>
<circle cx="528.8" cy="246.5" r="8.0"/>
<circle cx="530.4" cy="249.9" r="8.0"/>
<circle cx="531.9" cy="253.2" r="8.0"/>
<circle cx="533.5" cy="256.6" r="8.0"/>
<circle cx="536.5" cy="255.1" r="7.7"/>
<circle cx="539.6" cy="253.6" r="7.3"/>
<circle cx="542.6" cy="252.1" r="7.0"/>
<circle cx="543.7" cy="254.8" r="7.0"/>
<circle cx="544.9" cy="257.5" r="7.0"/>
<circle cx="546.0" cy="260.2" r="7.0"/>
<circle cx="547.1" cy="262.9" r="7.0"/>
<circle cx="548.9" cy="260.4" r="7.0"/>
<circle cx="550.7" cy="257.9" r="7.0"/>
<circle cx="552.5" cy="255.5" r="7.0"/>
<circle cx="554.3" cy="253.0" r="7.0"/>
<circle cx="556.4" cy="255.7" r="7.0"/>
<circle cx="558.5" cy="258.4" r="7.0"/>
<circle cx="560.6" cy="261.1" r="7.0"/>
<circle cx="561.9" cy="258.9" r="6.8"/>
<circle cx="563.1" cy="256.8" r="6.6"/>
<circle cx="564.4" cy="254.6" r="6.4"/>
<circle cx="565.6" cy="252.5" r="6.2"/>
<circle cx="566.9" cy="250.3" r="6.0"/>
<circle cx="567.8" cy="248.0" r="5.8"/>
<circle cx="568.7" cy="245.8" r="5.5"/>
<circle cx="569.6" cy="243.5" r="5.2"/>
<circle cx="570.5" cy="241.2" r="5.0"/>
<circle cx="570.5" cy="239.4" r="4.9"/>
<circle cx="570.5" cy="237.6" r="4.8"/>
<circle cx="570.5" cy="235.8" r="4.6"/>
<circle cx="570.5" cy="234.0" r="4.5"/>
<circle cx="540.8" cy="266.5" r="5.0"/>
<circle cx="570.5" cy="241.2" r="5.0"/>
<circle cx="570.7" cy="243.7" r="5.0"/>
<circle cx="571.0" cy="246.2" r="5.0"/>
<circle cx="571.2" cy="248.7" r="5.0"/>
<circle cx="571.4" cy="251.2" r="5.0"/>
<circle cx="571.6" cy="253.6" r="5.0"/>
<circle cx="571.8" cy="256.1" r="5.0"/>
<circle cx="572.1" cy="258.6" r="5.0"/>
<circle cx="572.3" cy="261.1" r="5.0"/>
<circle cx="599.4" cy="271.9" r="4.5"/>
<circle cx="600.8" cy="272.5" r="4.2"/>
<circle cx="602.3" cy="273.1" r="4.0"/>
<circle cx="602.7" cy="271.3" r="4.0"/>
<circle cx="603.1" cy="269.5" r="4.1"/>
<circle cx="603.5" cy="267.8" r="4.1"/>
<circle cx="603.8" cy="266.0" r="4.1"/>
<circle cx="604.2" cy="264.2" r="4.2"/>
<circle cx="604.6" cy="262.4" r="4.2"/>
<circle cx="604.9" cy="260.5" r="4.2"/>
<circle cx="605.3" cy="258.7" r="4.2"/>
<circle cx="605.6" cy="256.9" r="4.2"/>
<circle cx="605.9" cy="255.0" r="4.2"/>
<circle cx="606.3" cy="253.2" r="4.2"/>
<circle cx="606.6" cy="251.3" r="4.2"/>
<circle cx="608.2" cy="250.5" r="4.3"/>
<circle cx="609.9" cy="249.7" r="4.4"/>
<circle cx="611.5" cy="248.9" r="4.5"/>
<circle cx="613.0" cy="247.4" r="4.5"/>
<circle cx="614.5" cy="245.9" r="4.5"/>
<circle cx="616.1" cy="244.5" r="4.5"/>
<circle cx="617.6" cy="243.0" r="4.5"/>
<circle cx="618.2" cy="244.7" r="4.5"/>
<circle cx="618.9" cy="246.4" r="4.4"/>
<circle cx="619.5" cy="248.1" r="4.3"/>
<circle cx="620.1" cy="249.8" r="4.3"/>
<circle cx="620.8" cy="251.5" r="4.2"/>
<circle cx="621.4" cy="253.2" r="4.2"/>
<circle cx="622.4" cy="251.7" r="4.2"/>
<circle cx="623.3" cy="250.2" r="4.2"/>
<circle cx="624.2" cy="248.8" r="4.2"/>
<circle cx="625.2" cy="247.3" r="4.2"/>
<circle cx="626.6" cy="248.4" r="4.2"/>
<circle cx="627.9" cy="249.5" r="4.2"/>
<circle cx="629.2" cy="250.6" r="4.2"/>
<circle cx="630.6" cy="251.7" r="4.2"/>
<circle cx="631.5" cy="253.6" r="4.2"/>
<circle cx="632.5" cy="255.4" r="4.2"/>
<circle cx="633.5" cy="257.2" r="4.2"/>
<circle cx="634.4" cy="259.1" r="4.2"/>
<circle cx="634.8" cy="257.1" r="4.2"/>
<circle cx="635.1" cy="255.0" r="4.2"/>
<circle cx="635.5" cy="253.0" r="4.2"/>
<circle cx="635.9" cy="250.9" r="4.2"/>
<circle cx="636.5" cy="249.2" r="4.3"/>
<circle cx="637.1" cy="247.4" r="4.3"/>
<circle cx="637.8" cy="245.7" r="4.4"/>
<circle cx="638.4" cy="243.9" r="4.4"/>
<circle cx="639.0" cy="242.2" r="4.5"/>
<circle cx="640.5" cy="243.2" r="4.5"/>
<circle cx="642.0" cy="244.3" r="4.5"/>
<circle cx="670.3" cy="247.6" r="4.5"/>
<circle cx="672.1" cy="247.9" r="4.5"/>
<circle cx="673.8" cy="248.1" r="4.5"/>
<circle cx="675.6" cy="248.4" r="4.5"/>
<circle cx="677.2" cy="249.3" r="4.5"/>
<circle cx="678.7" cy="250.2" r="4.5"/>
<circle cx="678.8" cy="251.9" r="4.4"/>
<circle cx="679.0" cy="253.6" r="4.3"/>
<circle cx="679.1" cy="255.2" r="4.2"/>
<circle cx="679.3" cy="256.9" r="4.1"/>
<circle cx="679.4" cy="258.6" r="4.0"/>
<circle cx="679.6" cy="260.5" r="4.0"/>
<circle cx="679.8" cy="262.4" r="4.0"/>
<circle cx="680.0" cy="264.3" r="4.0"/>
<circle cx="680.2" cy="266.2" r="4.0"/>
<circle cx="713.9" cy="275.7" r="5.0"/>
<circle cx="714.5" cy="277.7" r="5.0"/>
<circle cx="715.0" cy="279.8" r="5.0"/>
<circle cx="715.6" cy="281.8" r="5.0"/>
<circle cx="716.1" cy="283.9" r="5.0"/>
<circle cx="716.7" cy="285.9" r="5.0"/>
<circle cx="718.3" cy="284.3" r="5.0"/>
<circle cx="720.0" cy="282.6" r="5.0"/>
<circle cx="721.6" cy="281.0" r="5.0"/>
<circle cx="723.0" cy="282.6" r="5.0"/>
<circle cx="724.4" cy="284.1" r="5.0"/>
<circle cx="725.8" cy="285.7" r="5.0"/>
<circle cx="727.2" cy="287.3" r="5.0"/>
<circle cx="729.3" cy="286.2" r="5.0"/>
<circle cx="731.4" cy="285.2" r="5.0"/>
<circle cx="733.2" cy="285.4" r="4.8"/>
<circle cx="735.0" cy="285.5" r="4.5"/>
<circle cx="845.0" cy="185.0" r="15.0"/>
<circle cx="850.0" cy="186.5" r="14.5"/>
<circle cx="855.0" cy="188.0" r="14.0"/>
<circle cx="848.0" cy="182.0" r="14.0"/>
<circle cx="852.0" cy="181.0" r="13.5"/>
<circle cx="856.0" cy="180.0" r="13.0"/>
<circle cx="866.0" cy="163.0" r="11.0"/>
<circle cx="868.0" cy="167.0" r="10.7"/>
<circle cx="870.0" cy="171.0" r="10.3"/>
<circle cx="872.0" cy="175.0" r="10.0"/>
<circle cx="866.0" cy="163.0" r="11.0"/>
<circle cx="866.5" cy="167.8" r="11.0"/>
<circle cx="867.0" cy="172.5" r="11.0"/>
<circle cx="867.5" cy="177.2" r="11.0"/>
<circle cx="868.0" cy="182.0" r="11.0"/>
<circle cx="872.0" cy="183.0" r="10.3"/>
<circle cx="876.0" cy="184.0" r="9.7"/>
<circle cx="880.0" cy="185.0" r="9.0"/>
<circle cx="880.3" cy="189.3" r="9.0"/>
<circle cx="880.7" cy="193.7" r="9.0"/>
<circle cx="881.0" cy="198.0" r="9.0"/>
<circle cx="883.7" cy="195.3" r="9.0"/>
<circle cx="886.3" cy="192.7" r="9.0"/>
<circle cx="889.0" cy="190.0" r="9.0"/>
<circle cx="890.5" cy="187.5" r="9.5"/>
<circle cx="892.0" cy="185.0" r="10.0"/>
<circle cx="893.2" cy="189.2" r="9.8"/>
<circle cx="894.5" cy="193.5" r="9.5"/>
<circle cx="895.8" cy="197.8" r="9.2"/>
<circle cx="897.0" cy="202.0" r="9.0"/>
<circle cx="897.0" cy="205.0" r="8.5"/>
<circle cx="898.5" cy="201.5" r="8.4"/>
<circle cx="900.0" cy="198.0" r="8.3"/>
<circle cx="901.5" cy="194.5" r="8.2"/>
<circle cx="903.0" cy="191.0" r="8.2"/>
<circle cx="904.5" cy="187.5" r="8.1"/>
<circle cx="906.0" cy="184.0" r="8.0"/>
<circle cx="907.0" cy="187.5" r="8.0"/>
<circle cx="908.0" cy="191.0" r="8.0"/>
<circle cx="909.0" cy="194.5" r="8.0"/>
<circle cx="910.0" cy="198.0" r="8.0"/>
<circle cx="912.7" cy="198.7" r="7.7"/>
<circle cx="915.3" cy="199.3" r="7.3"/>
<circle cx="918.0" cy="200.0" r="7.0"/>
<circle cx="918.8" cy="197.2" r="7.2"/>
<circle cx="919.7" cy="194.3" r="7.3"/>
<circle cx="920.5" cy="191.5" r="7.5"/>
<circle cx="921.3" cy="188.7" r="7.7"/>
<circle cx="922.2" cy="185.8" r="7.8"/>
<circle cx="923.0" cy="183.0" r="8.0"/>
<circle cx="925.3" cy="184.7" r="7.7"/>
<circle cx="927.7" cy="186.3" r="7.3"/>
<circle cx="930.0" cy="188.0" r="7.0"/>
<circle cx="932.5" cy="186.0" r="7.0"/>
<circle cx="935.0" cy="184.0" r="7.0"/>
<circle cx="937.3" cy="184.7" r="6.7"/>
<circle cx="939.7" cy="185.3" r="6.3"/>
<circle cx="942.0" cy="186.0" r="6.0"/>
<circle cx="943.6" cy="183.6" r="6.0"/>
<circle cx="945.2" cy="181.2" r="6.0"/>
<circle cx="946.8" cy="178.8" r="6.0"/>
<circle cx="948.4" cy="176.4" r="6.0"/>
<circle cx="950.0" cy="174.0" r="6.0"/>
<circle cx="952.5" cy="173.0" r="6.0"/>
<circle cx="955.0" cy="172.0" r="6.0"/>
<circle cx="956.0" cy="169.6" r="5.9"/>
<circle cx="957.0" cy="167.2" r="5.8"/>
<circle cx="958.0" cy="164.8" r="5.7"/>
<circle cx="959.0" cy="162.4" r="5.6"/>
<circle cx="960.0" cy="160.0" r="5.5"/>
<circle cx="870.0" cy="190.0" r="10.0"/>
<circle cx="874.0" cy="191.0" r="10.0"/>
<circle cx="878.0" cy="192.0" r="10.0"/>
<circle cx="882.0" cy="193.0" r="10.0"/>
<circle cx="886.0" cy="194.0" r="10.0"/>
<circle cx="890.0" cy="195.0" r="10.0"/>
<circle cx="893.8" cy="194.2" r="9.8"/>
<circle cx="897.5" cy="193.5" r="9.5"/>
<circle cx="901.2" cy="192.8" r="9.2"/>
<circle cx="905.0" cy="192.0" r="9.0"/>
<circle cx="908.8" cy="191.5" r="8.8"/>
<circle cx="912.5" cy="191.0" r="8.5"/>
<circle cx="916.2" cy="190.5" r="8.2"/>
<circle cx="920.0" cy="190.0" r="8.0"/>
<circle cx="923.0" cy="189.2" r="7.8"/>
<circle cx="926.0" cy="188.4" r="7.6"/>
<circle cx="929.0" cy="187.6" r="7.4"/>
<circle cx="932.0" cy="186.8" r="7.2"/>
<circle cx="935.0" cy="186.0" r="7.0"/>
<circle cx="937.5" cy="185.0" r="6.8"/>
<circle cx="940.0" cy="184.0" r="6.5"/>
<circle cx="942.5" cy="183.0" r="6.2"/>
<circle cx="945.0" cy="182.0" r="6.0"/>
<circle cx="947.0" cy="180.8" r="5.8"/>
<circle cx="949.0" cy="179.6" r="5.6"/>
<circle cx="951.0" cy="178.4" r="5.4"/>
<circle cx="953.0" cy="177.2" r="5.2"/>
<circle cx="955.0" cy="176.0" r="5.0"/>
<circle cx="975.0" cy="163.0" r="5.0"/>
<circle cx="956.5" cy="178.2" r="5.0"/>
<circle cx="956.7" cy="175.7" r="5.0"/>
<circle cx="957.0" cy="173.3" r="5.0"/>
<circle cx="957.2" cy="170.8" r="5.0"/>
<circle cx="957.7" cy="168.6" r="5.1"/>
<circle cx="958.2" cy="166.3" r="5.2"/>
<circle cx="958.7" cy="164.1" r="5.2"/>
<circle cx="959.2" cy="161.9" r="5.3"/>
<circle cx="959.7" cy="159.6" r="5.4"/>
<circle cx="960.2" cy="157.4" r="5.5"/>
<circle cx="961.7" cy="159.1" r="5.5"/>
<circle cx="963.2" cy="160.9" r="5.5"/>
<circle cx="964.7" cy="162.6" r="5.5"/>
<circle cx="975.8" cy="161.1" r="5.5"/>
<circle cx="977.8" cy="161.9" r="5.5"/>
<circle cx="979.7" cy="162.6" r="5.5"/>
<circle cx="981.7" cy="163.4" r="5.5"/>
<circle cx="983.4" cy="165.4" r="5.5"/>
<circle cx="985.2" cy="167.3" r="5.5"/>
<circle cx="986.9" cy="169.3" r="5.5"/>
<circle cx="987.8" cy="171.4" r="5.5"/>
<circle cx="988.8" cy="173.4" r="5.5"/>
<circle cx="989.7" cy="175.4" r="5.5"/>
<circle cx="990.6" cy="177.5" r="5.5"/>
<circle cx="990.6" cy="179.5" r="5.4"/>
<circle cx="990.6" cy="181.6" r="5.2"/>
<circle cx="990.6" cy="183.6" r="5.1"/>
<circle cx="990.6" cy="185.6" r="5.0"/>
<circle cx="986.9" cy="169.3" r="5.5"/>
<circle cx="988.8" cy="168.2" r="5.5"/>
<circle cx="990.6" cy="167.1" r="5.5"/>
<circle cx="992.4" cy="165.9" r="5.5"/>
<circle cx="994.3" cy="164.8" r="5.5"/>
<circle cx="996.0" cy="166.8" r="5.5"/>
<circle cx="997.8" cy="168.8" r="5.5"/>
<circle cx="999.5" cy="170.8" r="5.5"/>
<circle cx="1000.5" cy="173.0" r="5.5"/>
<circle cx="1001.4" cy="175.2" r="5.5"/>
<circle cx="1002.3" cy="177.5" r="5.5"/>
<circle cx="1003.3" cy="179.7" r="5.5"/>
<circle cx="1004.0" cy="181.9" r="5.4"/>
<circle cx="1004.8" cy="184.1" r="5.3"/>
<circle cx="1005.5" cy="186.4" r="5.2"/>
<circle cx="1006.3" cy="188.6" r="5.1"/>
<circle cx="1007.0" cy="190.8" r="5.0"/>
<circle cx="1003.3" cy="179.7" r="5.5"/>
<circle cx="1005.4" cy="178.7" r="5.5"/>
<circle cx="1007.4" cy="177.6" r="5.5"/>
<circle cx="1009.5" cy="176.6" r="5.5"/>
<circle cx="1011.5" cy="175.5" r="5.5"/>
<circle cx="1013.6" cy="174.5" r="5.5"/>
<circle cx="1015.3" cy="176.6" r="5.5"/>
<circle cx="1017.0" cy="178.6" r="5.5"/>
<circle cx="1018.6" cy="180.6" r="5.5"/>
<circle cx="1020.3" cy="182.7" r="5.5"/>
<circle cx="1020.8" cy="184.7" r="5.3"/>
<circle cx="1021.3" cy="186.6" r="5.2"/>
<circle cx="1021.8" cy="188.6" r="5.0"/>
<circle cx="1020.3" cy="182.7" r="5.5"/>
<circle cx="1022.3" cy="181.6" r="5.5"/>
<circle cx="1024.4" cy="180.4" r="5.5"/>
<circle cx="1026.5" cy="179.3" r="5.5"/>
<circle cx="1028.5" cy="178.2" r="5.5"/>
<circle cx="1031.0" cy="179.2" r="5.5"/>
<circle cx="1033.4" cy="180.2" r="5.5"/>
<circle cx="1035.9" cy="181.2" r="5.5"/>
<circle cx="1036.8" cy="178.8" r="5.5"/>
<circle cx="1037.8" cy="176.3" r="5.5"/>
<circle cx="1038.7" cy="173.9" r="5.5"/>
<circle cx="1039.6" cy="171.5" r="5.5"/>
<circle cx="1041.1" cy="171.2" r="5.5"/>
<circle cx="1042.6" cy="170.8" r="5.5"/>
<circle cx="1123.9" cy="117.1" r="8.2"/>
<circle cx="1125.3" cy="119.4" r="7.8"/>
<circle cx="1126.8" cy="121.8" r="7.4"/>
<circle cx="1128.2" cy="124.1" r="7.0"/>
<circle cx="1129.7" cy="126.5" r="6.6"/>
<circle cx="1131.1" cy="128.8" r="6.2"/>
<circle cx="1132.0" cy="130.9" r="6.2"/>
<circle cx="1132.9" cy="133.0" r="6.2"/>
<circle cx="1133.8" cy="135.1" r="6.2"/>
<circle cx="1134.9" cy="137.4" r="6.1"/>
<circle cx="1136.0" cy="139.6" r="6.0"/>
<circle cx="1137.2" cy="141.9" r="5.8"/>
<circle cx="1138.3" cy="144.2" r="5.7"/>
<circle cx="1139.7" cy="142.4" r="5.7"/>
<circle cx="1141.0" cy="140.6" r="5.7"/>
<circle cx="1142.3" cy="138.7" r="5.7"/>
<circle cx="1143.7" cy="136.9" r="5.7"/>
<circle cx="1145.5" cy="138.1" r="5.7"/>
<circle cx="1147.4" cy="139.3" r="5.7"/>
<circle cx="1149.2" cy="140.5" r="5.7"/>
<circle cx="1150.7" cy="142.0" r="5.7"/>
<circle cx="1152.2" cy="143.6" r="5.7"/>
<circle cx="1153.7" cy="145.1" r="5.7"/>
<circle cx="1155.2" cy="143.6" r="5.7"/>
<circle cx="1156.7" cy="142.0" r="5.7"/>
<circle cx="1158.2" cy="140.5" r="5.7"/>
<circle cx="1159.4" cy="139.0" r="5.5"/>
<circle cx="1160.6" cy="137.5" r="5.4"/>
<circle cx="1161.8" cy="136.0" r="5.2"/>
</g>
<g fill="#b8dc74">
<circle cx="264.0" cy="258.0" r="8.0"/>
<circle cx="265.3" cy="260.7" r="8.3"/>
<circle cx="266.7" cy="263.3" r="8.7"/>
<circle cx="268.0" cy="266.0" r="9.0"/>
<circle cx="266.7" cy="269.3" r="9.0"/>
<circle cx="265.3" cy="272.7" r="9.0"/>
<circle cx="264.0" cy="276.0" r="9.0"/>
<circle cx="263.3" cy="278.0" r="8.0"/>
<circle cx="262.7" cy="280.0" r="7.0"/>
<circle cx="262.0" cy="282.0" r="6.0"/>
</g>
<g fill="#dc2626">
<circle cx="331.0" cy="248.5" r="16.5"/>
</g>
</g>
<line x1="30.5" y1="656.5" x2="1174" y2="656.5" stroke="#d9d9d9" stroke-width="1"/>
<line x1="1180.2" y1="99" x2="1180.2" y2="656" stroke="#d4d4d4" stroke-width="2"/>
<g stroke="#d8d8d8" stroke-width="1">
<line x1="41.2" y1="656.5" x2="41.2" y2="664"/>
<line x1="134.0" y1="656.5" x2="134.0" y2="664"/>
<line x1="227.8" y1="656.5" x2="227.8" y2="664"/>
<line x1="320.1" y1="656.5" x2="320.1" y2="664"/>
<line x1="413.9" y1="656.5" x2="413.9" y2="664"/>
<line x1="506.1" y1="656.5" x2="506.1" y2="664"/>
<line x1="599.9" y1="656.5" x2="599.9" y2="664"/>
<line x1="692.2" y1="656.5" x2="692.2" y2="664"/>
<line x1="786.0" y1="656.5" x2="786.0" y2="664"/>
<line x1="878.8" y1="656.5" x2="878.8" y2="664"/>
<line x1="972.6" y1="656.5" x2="972.6" y2="664"/>
<line x1="1064.9" y1="656.5" x2="1064.9" y2="664"/>
<line x1="1158.7" y1="656.5" x2="1158.7" y2="664"/>
</g>
</svg>
<div id="title" class="t">BNB: Spot Average Order Size</div>
<div class="dot" style="left:371px;background:#8e8c9a"></div>
<div class="t lg" style="left:387px">Normal</div>
<div class="dot" style="left:465px;background:#55b045"></div>
<div class="t lg" style="left:481px">Big Whale Orders</div>
<div class="dot" style="left:630px;background:#cfe6a8"></div>
<div class="t lg" style="left:646px">Small Whale Orders</div>
<div class="dot" style="left:810px;background:#dd6670"></div>
<div class="t lg" style="left:827px">Retail Orders</div>
<div class="t yl" style="top:117.9px">$1K</div>
<div class="t yl" style="top:140.9px">$800</div>
<div class="t yl" style="top:170.5px">$600</div>
<div class="t yl" style="top:212.4px">$400</div>
<div class="t yl" style="top:283.9px">$200</div>
<div class="t yl" style="top:355.3px">$100</div>
<div class="t yl" style="top:378.4px">$80</div>
<div class="t yl" style="top:408.0px">$60</div>
<div class="t yl" style="top:449.8px">$40</div>
<div class="t yl" style="top:521.3px">$20</div>
<div class="t yl" style="top:592.8px">$10</div>
<div class="t yl" style="top:615.8px">$8</div>
<div class="t yl" style="top:645.5px">$6</div>
<div class="t xl" style="left:24.3px">2020 Jan</div>
<div class="t xl" style="left:134.0px;transform:translateX(-50%)">2020 Jul</div>
<div class="t xl" style="left:227.8px;transform:translateX(-50%)">2021 Jan</div>
<div class="t xl" style="left:320.1px;transform:translateX(-50%)">2021 Jul</div>
<div class="t xl" style="left:413.9px;transform:translateX(-50%)">2022 Jan</div>
<div class="t xl" style="left:506.1px;transform:translateX(-50%)">2022 Jul</div>
<div class="t xl" style="left:599.9px;transform:translateX(-50%)">2023 Jan</div>
<div class="t xl" style="left:692.2px;transform:translateX(-50%)">2023 Jul</div>
<div class="t xl" style="left:786.0px;transform:translateX(-50%)">2024 Jan</div>
<div class="t xl" style="left:878.8px;transform:translateX(-50%)">2024 Jul</div>
<div class="t xl" style="left:972.6px;transform:translateX(-50%)">2025 Jan</div>
<div class="t xl" style="left:1064.9px;transform:translateX(-50%)">2025 Jul</div>
<div class="t xl" style="left:1158.7px;transform:translateX(-50%)">2026 Jan</div>
<div class="t" style="left:1225px;top:370.5px;font-size:15.3px;color:#333;transform:rotate(90deg);transform-origin:center;">Price</div>
<div class="t" style="left:1088px;top:692px;font-size:11px;color:#777;letter-spacing:-0.22px">© CryptoQuant. All rights reserved</div>
</body></html>
